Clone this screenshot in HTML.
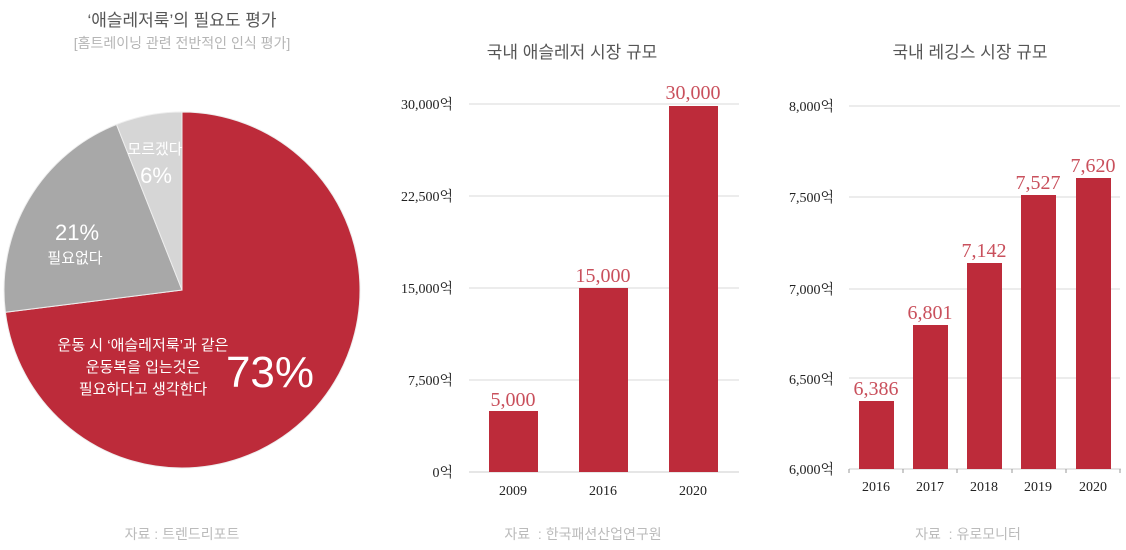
<!DOCTYPE html>
<html><head><meta charset="utf-8"><style>
body{margin:0;background:#fff;width:1126px;height:550px;overflow:hidden}
svg{display:block}
.k{font-family:"Liberation Sans","Noto Sans CJK KR",sans-serif}
.s{font-family:"Liberation Serif","Noto Serif CJK SC","Noto Sans CJK KR",serif}
</style></head><body>
<svg width="1126" height="550" viewBox="0 0 1126 550">
<text x="182" y="26" text-anchor="middle" class="k" font-size="17" fill="#555">‘애슬레저룩’의 필요도 평가</text>
<text x="182" y="48" text-anchor="middle" class="k" font-size="14" fill="#b5b5b5">[홈트레이닝 관련 전반적인 인식 평가]</text>
<path d="M182,290 L182,112 A178,178 0 1 1 5.4,312.3 Z" fill="#bd2b3a" stroke="#eee" stroke-width="1"/>
<path d="M182,290 L5.4,312.3 A178,178 0 0 1 116.5,124.5 Z" fill="#a8a8a8" stroke="#eee" stroke-width="1"/>
<path d="M182,290 L116.5,124.5 A178,178 0 0 1 182,112 Z" fill="#d6d6d6" stroke="#eee" stroke-width="1"/>
<text x="155" y="154" text-anchor="middle" class="k" font-size="15" fill="#fff">모르겠다</text>
<text x="156" y="183" text-anchor="middle" class="k" font-size="22" fill="#fff">6%</text>
<text x="77" y="240" text-anchor="middle" class="k" font-size="22" fill="#fff">21%</text>
<text x="75" y="263" text-anchor="middle" class="k" font-size="15" fill="#fff">필요없다</text>
<text x="143" y="350" text-anchor="middle" class="k" font-size="15" fill="#fff">운동 시 ‘애슬레저룩’과 같은</text>
<text x="143" y="372" text-anchor="middle" class="k" font-size="15" fill="#fff">운동복을 입는것은</text>
<text x="143" y="394" text-anchor="middle" class="k" font-size="15" fill="#fff">필요하다고 생각한다</text>
<text x="270" y="387" text-anchor="middle" class="k" font-size="44" fill="#fff">73%</text>
<text x="182" y="539" text-anchor="middle" class="k" font-size="14" fill="#bbb">자료 : 트렌드리포트</text>

<text x="572" y="58" text-anchor="middle" class="k" font-size="17" fill="#555">국내 애슬레저 시장 규모</text>
<g stroke="#e6e6e6" stroke-width="1.5">
<line x1="469" y1="104" x2="739" y2="104"/><line x1="469" y1="196" x2="739" y2="196"/>
<line x1="469" y1="288" x2="739" y2="288"/><line x1="469" y1="380" x2="739" y2="380"/>
</g>
<line x1="469" y1="472" x2="739" y2="472" stroke="#ccc"/>
<g fill="#bd2b3a">
<rect x="489" y="411" width="49" height="61"/>
<rect x="579" y="288" width="49" height="184"/>
<rect x="669" y="106" width="49" height="366"/>
</g>
<g class="s" font-size="14" fill="#222" text-anchor="end">
<text x="453" y="109">30,000억</text><text x="453" y="201">22,500억</text>
<text x="453" y="293">15,000억</text><text x="453" y="385">7,500억</text><text x="453" y="477">0억</text>
</g>
<g class="s" font-size="20" fill="#c9505c" text-anchor="middle">
<text x="513" y="406">5,000</text><text x="603" y="282">15,000</text><text x="693" y="99">30,000</text>
</g>
<g class="s" font-size="14" fill="#222" text-anchor="middle">
<text x="513" y="495">2009</text><text x="603" y="495">2016</text><text x="693" y="495">2020</text>
</g>
<text x="583" y="539" text-anchor="middle" class="k" font-size="14" fill="#bbb">자료 &#160;: 한국패션산업연구원</text>

<text x="970" y="58" text-anchor="middle" class="k" font-size="17" fill="#555">국내 레깅스 시장 규모</text>
<g stroke="#e6e6e6" stroke-width="1.5">
<line x1="849" y1="106" x2="1120" y2="106"/><line x1="849" y1="197" x2="1120" y2="197"/>
<line x1="849" y1="289" x2="1120" y2="289"/><line x1="849" y1="378" x2="1120" y2="378"/>
</g>
<line x1="849" y1="469" x2="1121" y2="469" stroke="#ccc"/>
<g stroke="#999"><line x1="849" y1="469" x2="849" y2="473"/><line x1="903" y1="469" x2="903" y2="473"/><line x1="957" y1="469" x2="957" y2="473"/><line x1="1012" y1="469" x2="1012" y2="473"/><line x1="1066" y1="469" x2="1066" y2="473"/><line x1="1120" y1="469" x2="1120" y2="473"/></g>
<g fill="#bd2b3a">
<rect x="859" y="401" width="35" height="68"/>
<rect x="913" y="325" width="35" height="144"/>
<rect x="967" y="263" width="35" height="206"/>
<rect x="1021" y="195" width="35" height="274"/>
<rect x="1076" y="178" width="35" height="291"/>
</g>
<g class="s" font-size="14" fill="#222" text-anchor="end">
<text x="834" y="111">8,000억</text><text x="834" y="202">7,500억</text>
<text x="834" y="294">7,000억</text><text x="834" y="384">6,500억</text><text x="834" y="474">6,000억</text>
</g>
<g class="s" font-size="20" fill="#c9505c" text-anchor="middle">
<text x="876" y="395">6,386</text><text x="930" y="319">6,801</text><text x="984" y="257">7,142</text>
<text x="1038" y="189">7,527</text><text x="1093" y="172">7,620</text>
</g>
<g class="s" font-size="14" fill="#222" text-anchor="middle">
<text x="876" y="491">2016</text><text x="930" y="491">2017</text><text x="984" y="491">2018</text><text x="1038" y="491">2019</text><text x="1093" y="491">2020</text>
</g>
<text x="968" y="539" text-anchor="middle" class="k" font-size="14" fill="#bbb">자료 &#160;: 유로모니터</text>
</svg>
</body></html>
